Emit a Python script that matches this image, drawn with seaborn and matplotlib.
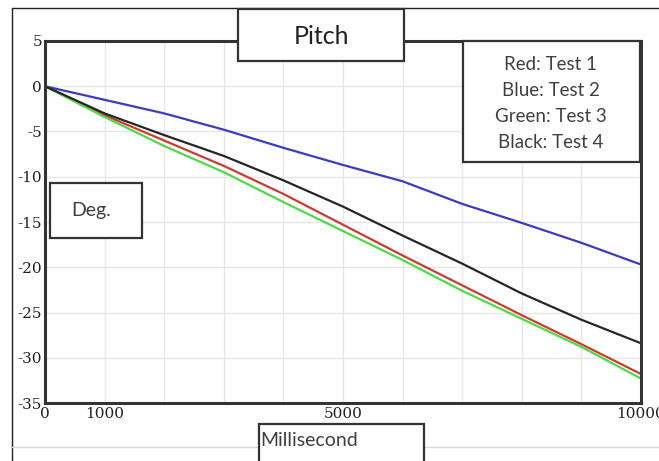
import pandas as pd
import matplotlib
matplotlib.use("Agg")
import matplotlib.pyplot as plt
import seaborn as sns
from matplotlib.patches import Rectangle
from matplotlib.lines import Line2D

# values (pitch in degrees vs time in ms)
time_ms = [0, 1000, 2000, 3000, 4000, 5000, 6000, 7000, 8000, 9000, 10000]
test1_red = [0, -3.2, -6.0, -8.8, -11.9, -15.3, -18.7, -22.0, -25.3, -28.5, -31.8]
test2_blue = [0, -1.5, -3.0, -4.8, -6.8, -8.7, -10.5, -13.0, -15.1, -17.3, -19.7]
test3_green = [0, -3.4, -6.6, -9.5, -12.8, -16.0, -19.2, -22.6, -25.7, -28.8, -32.3]
test4_black = [0, -3.0, -5.4, -7.7, -10.4, -13.3, -16.5, -19.6, -22.9, -25.8, -28.4]

tests = ["Test 1", "Test 2", "Test 3", "Test 4"]
x_labels = {0: "0", 1000: "1000", 5000: "5000", 10000: "10000"}
y_ticks = [5, 0, -5, -10, -15, -20, -25, -30, -35]

W, H = 659, 461


def fx(x):
    return x / W


def fy(y):
    return 1 - y / H


def box(fig, x0, y0, x1, y1, lw=1.6, ec="#333333"):
    r = Rectangle((fx(x0), fy(y1)), fx(x1) - fx(x0), fy(y0) - fy(y1),
                  transform=fig.transFigure, facecolor="white", edgecolor=ec,
                  linewidth=lw, zorder=5)
    fig.add_artist(r)


sns.set_style("white")
plt.rcParams['font.family'] = ['DejaVu Serif']

df = pd.DataFrame({
    "time": time_ms * 4,
    "pitch": test1_red + test2_blue + test3_green + test4_black,
    "test": [t for t in tests for _ in time_ms],
})
palette = {"Test 1": "#d03a30", "Test 2": "#3b3bc4", "Test 3": "#48dc48", "Test 4": "#262626"}

fig = plt.figure(figsize=(W / 100, H / 100), dpi=100)
ax = fig.add_axes([fx(45), fy(403), fx(641) - fx(45), fy(41) - fy(403)])
sns.lineplot(data=df, x="time", y="pitch", hue="test", palette=palette,
             linewidth=1.6, ax=ax, legend=False)

ax.set_xlim(0, 10000)
ax.set_ylim(-35, 5)
ax.set_xticks(time_ms)
ax.set_xticklabels([x_labels.get(t, "") for t in time_ms])
ax.set_yticks(y_ticks)
ax.set_yticklabels([str(v) for v in y_ticks])
ax.tick_params(length=0, pad=2, labelsize=11, colors="#222222")
ax.tick_params(axis="x", pad=3)
ax.grid(True, color="#e6e6e6", linewidth=1)
ax.set_xlabel(None)
ax.set_ylabel(None)
for s in ax.spines.values():
    s.set_visible(True)
    s.set_color("#333333")
    s.set_linewidth(2.2)

# outer frame
fig.add_artist(Line2D([fx(12), fx(12)], [fy(8), 0], transform=fig.transFigure,
                      color="#222222", linewidth=1))
fig.add_artist(Line2D([fx(12), 1], [fy(8), fy(8)], transform=fig.transFigure,
                      color="#222222", linewidth=1))
fig.add_artist(Line2D([fx(12), 1], [fy(447), fy(447)], transform=fig.transFigure,
                      color="#d8d8d8", linewidth=1))

sans = ["Lato", "DejaVu Sans"]
tc = "#404040"

# title box
box(fig, 238, 9, 404, 61)
fig.text(fx(322), fy(36), "Pitch", ha="center", va="center", fontsize=18,
         family=sans, color="#222222", zorder=6)

# legend box
box(fig, 463, 41, 640, 162)
for i, (c, t) in enumerate(zip(["Red", "Blue", "Green", "Black"], tests)):
    fig.text(fx(551), fy(64 + i * 26), f"{c}: {t}", ha="center", va="center",
             fontsize=13.5, family=sans, color=tc, zorder=6)

# y label box
box(fig, 50, 183, 142, 238)
fig.text(fx(91), fy(210), "Deg.", ha="center", va="center", fontsize=14,
         family=sans, color=tc, zorder=6)

# x label box
box(fig, 259, 424, 424, 470)
fig.text(fx(260), fy(440), "Millisecond", ha="left", va="center", fontsize=14,
         family=sans, color=tc, zorder=6)

fig.savefig("out.png", dpi=100)
